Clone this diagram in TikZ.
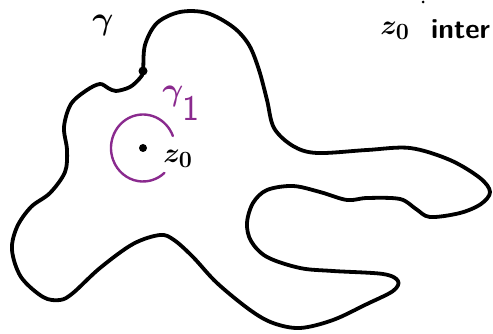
\documentclass[tikz,border=0pt]{standalone}
\usepackage{xcolor}
\definecolor{purp}{HTML}{8A2A8E}
\begin{document}
\begin{tikzpicture}[x=1pt,y=-1pt,
  curve/.style={line width=3.8pt,line join=round,line cap=round},
  pcurve/.style={purp,line width=2.4pt,line cap=round},
  lbl/.style={inner sep=0pt,font=\Huge\boldmath},
  pt/.style={circle,fill=black,inner sep=0pt,minimum size=#1}]
\useasboundingbox (0,0) rectangle (493,334);
\draw[curve] plot[smooth cycle,tension=0.55] coordinates {
(143,71) (145,45) (157,23) (180,12) (207,13) (233,27) (249,45) (259,70) (267,100) (274,128) (293,146) (317,153) (367,150) (410,148) (450,160) (480,178) (490,192) (481,204) (460,213) (430,217) (416,209) (400,199) (367,198) (347,200) (320,192) (293,186) (267,190) (253,203) (247,223) (251,241) (267,257) (300,268) (333,271) (383,274) (398,281) (393,291) (367,304) (333,320) (300,328) (273,323) (250,310) (217,283) (193,257) (174,240) (160,235) (133,244) (100,268) (73,293) (60,300) (43,297) (21,277) (12,250) (17,227) (31,207) (50,193) (65,172) (67,150) (64,127) (71,104) (87,90) (100,84) (108,88) (116,91) (130,87) (140,78)};
\node[pt=9pt] (p) at (143,71) {};
\node[pt=8pt] (z) at (143,148) {};
\draw[pcurve] (z) ++(-21:32 and 33.5) arc[start angle=-21,end angle=-312,x radius=32,y radius=33.5];
\node[lbl] (g) at (103,25) {\scalebox{1.3}{$\gamma$}};
\node[lbl,text=purp] (g1) at (173,96) {\scalebox{1.3}{$\gamma$}};
\node[inner sep=0pt,text=purp,font=\Huge\sffamily] (one) at (191,108) {\scalebox{1.45}{1}};
\node[lbl] (zl) at (178,159) {\scalebox{1.12}{$z_0$}};
\node[lbl] (zt) at (395,31) {\scalebox{1.12}{$z_0$}};
\node[inner sep=0pt,font=\fontsize{28}{30}\selectfont\sffamily\bfseries,anchor=base west] (t) at (431,39) {inter};
\node[pt=3pt] (d) at (423,2) {};
\end{tikzpicture}
\end{document}
